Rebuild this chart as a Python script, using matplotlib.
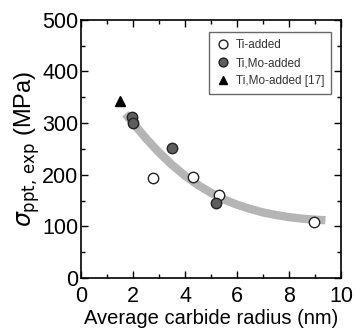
import matplotlib
matplotlib.use('Agg')
import matplotlib.pyplot as plt
from matplotlib.ticker import MultipleLocator

plt.rcParams['font.family'] = ['Liberation Sans', 'DejaVu Sans']

# measured data
ti_r = [2.75, 4.3, 5.3, 8.95]
ti_s = [193, 195, 160, 108]
timo_r = [1.95, 2.0, 3.5, 5.2]
timo_s = [312, 300, 251, 145]
ref_r = [1.5]
ref_s = [342]

# gray fitted band
fit_r = [1.7, 2.0, 2.5, 3.0, 3.5, 4.0, 4.5, 5.0, 5.5, 6.0, 6.5, 7.0, 7.5, 8.0, 8.5, 9.0, 9.4]
fit_s = [318, 300, 270, 243, 219, 198, 180, 165, 152, 142, 134, 127, 122, 118, 115, 113, 112]

fig = plt.figure(figsize=(3.56, 3.31), dpi=100)
ax = fig.add_axes([0.228, 0.16, 0.73, 0.78])

ax.plot(fit_r, fit_s, color='#b5b5b5', lw=6, solid_capstyle='butt', zorder=1)
ax.plot(ti_r, ti_s, 'o', ms=7.5, mfc='white', mec='#222222', mew=1.0, label='Ti-added', zorder=3)
ax.plot(timo_r, timo_s, 'o', ms=7.5, mfc='#5e5e5e', mec='#222222', mew=1.0, label='Ti,Mo-added', zorder=3)
ax.plot(ref_r, ref_s, '^', ms=6.5, color='black', label='Ti,Mo-added [17]', zorder=3)

ax.set_xlim(0, 10)
ax.set_ylim(0, 500)
ax.xaxis.set_major_locator(MultipleLocator(2))
ax.xaxis.set_minor_locator(MultipleLocator(1))
ax.yaxis.set_major_locator(MultipleLocator(100))
ax.yaxis.set_minor_locator(MultipleLocator(50))
ax.tick_params(which='both', direction='in', top=True, right=True, width=1)
ax.tick_params(which='major', length=5, labelsize=15.5)
ax.tick_params(axis='x', which='major', pad=6)
ax.tick_params(axis='y', which='major', pad=2)
ax.tick_params(which='minor', length=3)
for s in ax.spines.values():
    s.set_linewidth(1.2)

ax.set_xlabel('Average carbide radius (nm)', fontsize=14.5, labelpad=1)
ax.set_ylabel(r'$\sigma_{\rm ppt,\,exp}$ (MPa)', fontsize=17, labelpad=0)

leg = ax.legend(loc='upper right', bbox_to_anchor=(0.985, 0.975), fontsize=8.5, frameon=True,
                fancybox=False, edgecolor='#444444', handletextpad=0.4, borderpad=0.6,
                labelspacing=0.5, handlelength=1.3, markerscale=0.85)
leg.get_frame().set_linewidth(1.0)
for t in leg.get_texts():
    t.set_color('#333333')

fig.savefig('out.png', dpi=100)
